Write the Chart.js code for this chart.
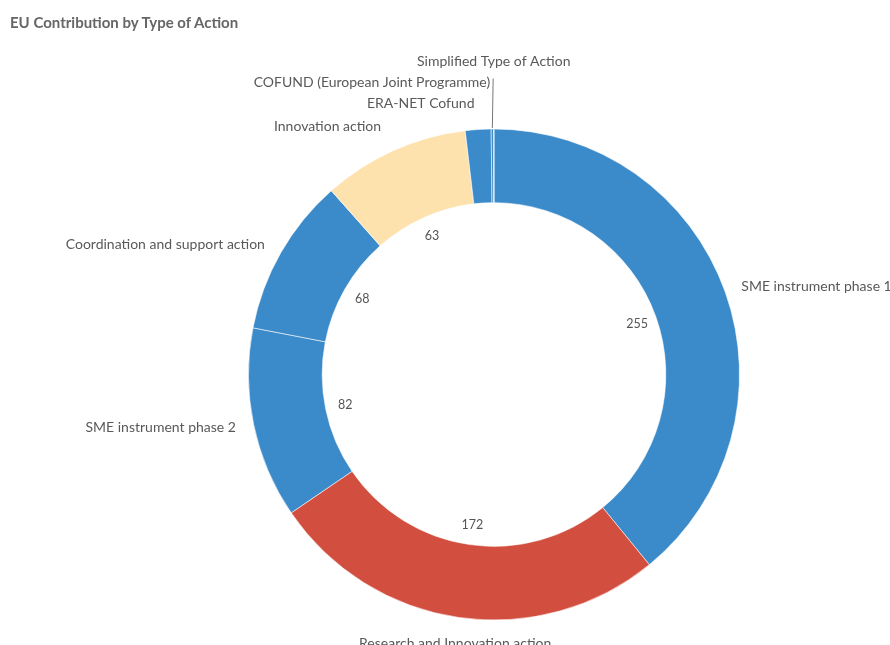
<!DOCTYPE html>
<html>
<head>
<meta charset="utf-8">
<script src="https://cdn.jsdelivr.net/npm/chart.js@4"></script>
<style>
  html, body { margin: 0; padding: 0; background: #fff; }
  #wrap { position: relative; width: 890px; height: 645px; overflow: hidden; }
  #title { position: absolute; left: 10px; top: 13px; font: bold 15px Lato, sans-serif; color: #666; }
</style>
</head>
<body>
<div id="wrap">
  <div id="title">EU Contribution by Type of Action</div>
  <canvas id="donut" width="890" height="645"></canvas>
</div>
<script>
// data
const categories = ['SME instrument phase 1', 'Research and Innovation action', 'SME instrument phase 2',
  'Coordination and support action', 'Innovation action', 'ERA-NET Cofund',
  'COFUND (European Joint Programme)', 'Simplified Type of Action'];
const contribution = [255, 172, 82, 68, 63, 11, 1, 0.2];
const sliceColors = ['#3b8ac9', '#d24e3e', '#3b8ac9', '#3b8ac9', '#fee2ad', '#3b8ac9', '#3b8ac9', '#3b8ac9'];

// labels around the ring + values on the inner edge
const ringLabels = {
  id: 'ringLabels',
  afterDatasetsDraw(chart) {
    const ctx = chart.ctx;
    const meta = chart.getDatasetMeta(0);
    const items = [];
    meta.data.forEach((arc, i) => {
      const p = arc.getProps(['x', 'y', 'startAngle', 'endAngle', 'outerRadius', 'innerRadius'], true);
      const mid = (p.startAngle + p.endAngle) / 2;
      const ux = Math.cos(mid), uy = Math.sin(mid);
      const r = p.outerRadius + (Math.abs(uy) > 0.9 ? 26 : 16);
      let align = ux > 0.005 ? 'left' : (ux < -0.005 ? 'right' : 'center');
      if (uy > 0.9) align = 'center';
      items.push({ i, p, mid, ux, uy, align, x: p.x + ux * r, ny: p.y + uy * r, y: p.y + uy * r });
    });

    // push crowded labels on the left side upwards
    let prev = null;
    items.forEach(it => {
      if (it.mid + Math.PI / 2 <= Math.PI) return;
      if (prev !== null) it.y = Math.min(it.ny, prev - 21);
      prev = it.y;
    });

    ctx.save();
    ctx.font = '14px Lato, sans-serif';
    ctx.fillStyle = '#595959';
    ctx.textBaseline = 'middle';
    items.forEach(it => {
      let tx = it.x;
      if (it.align === 'left') tx += 1;
      if (it.align === 'right') tx -= 2;
      ctx.textAlign = it.align;
      ctx.fillText(categories[it.i], tx, it.y);
      if (it.ny - it.y > 12 && it.align !== 'center') {
        const ox = it.p.x + it.ux * (it.p.outerRadius + 1);
        const oy = it.p.y + it.uy * (it.p.outerRadius + 1);
        ctx.strokeStyle = '#777';
        ctx.lineWidth = 1;
        ctx.beginPath();
        ctx.moveTo(it.x + 1, it.y - 4);
        ctx.lineTo(ox, oy);
        ctx.stroke();
      }
    });

    // values
    ctx.font = '12.5px Lato, sans-serif';
    ctx.fillStyle = '#555';
    ctx.textAlign = 'center';
    items.forEach(it => {
      if (contribution[it.i] < 20) return;
      const r = it.p.innerRadius - 20;
      ctx.fillText(String(contribution[it.i]), it.p.x + it.ux * r, it.p.y + it.uy * r);
    });
    ctx.restore();
  }
};

new Chart(document.getElementById('donut').getContext('2d'), {
  type: 'doughnut',
  data: {
    labels: categories,
    datasets: [{
      data: contribution,
      backgroundColor: sliceColors,
      borderColor: 'rgba(255,255,255,0.55)',
      borderWidth: 1,
    }],
  },
  options: {
    responsive: false,
    animation: false,
    cutout: '70%',
    layout: { padding: { top: 128, bottom: 24, left: 248, right: 150 } },
    plugins: {
      legend: { display: false },
      tooltip: { enabled: false },
    },
  },
  plugins: [ringLabels],
});
</script>
</body>
</html>
